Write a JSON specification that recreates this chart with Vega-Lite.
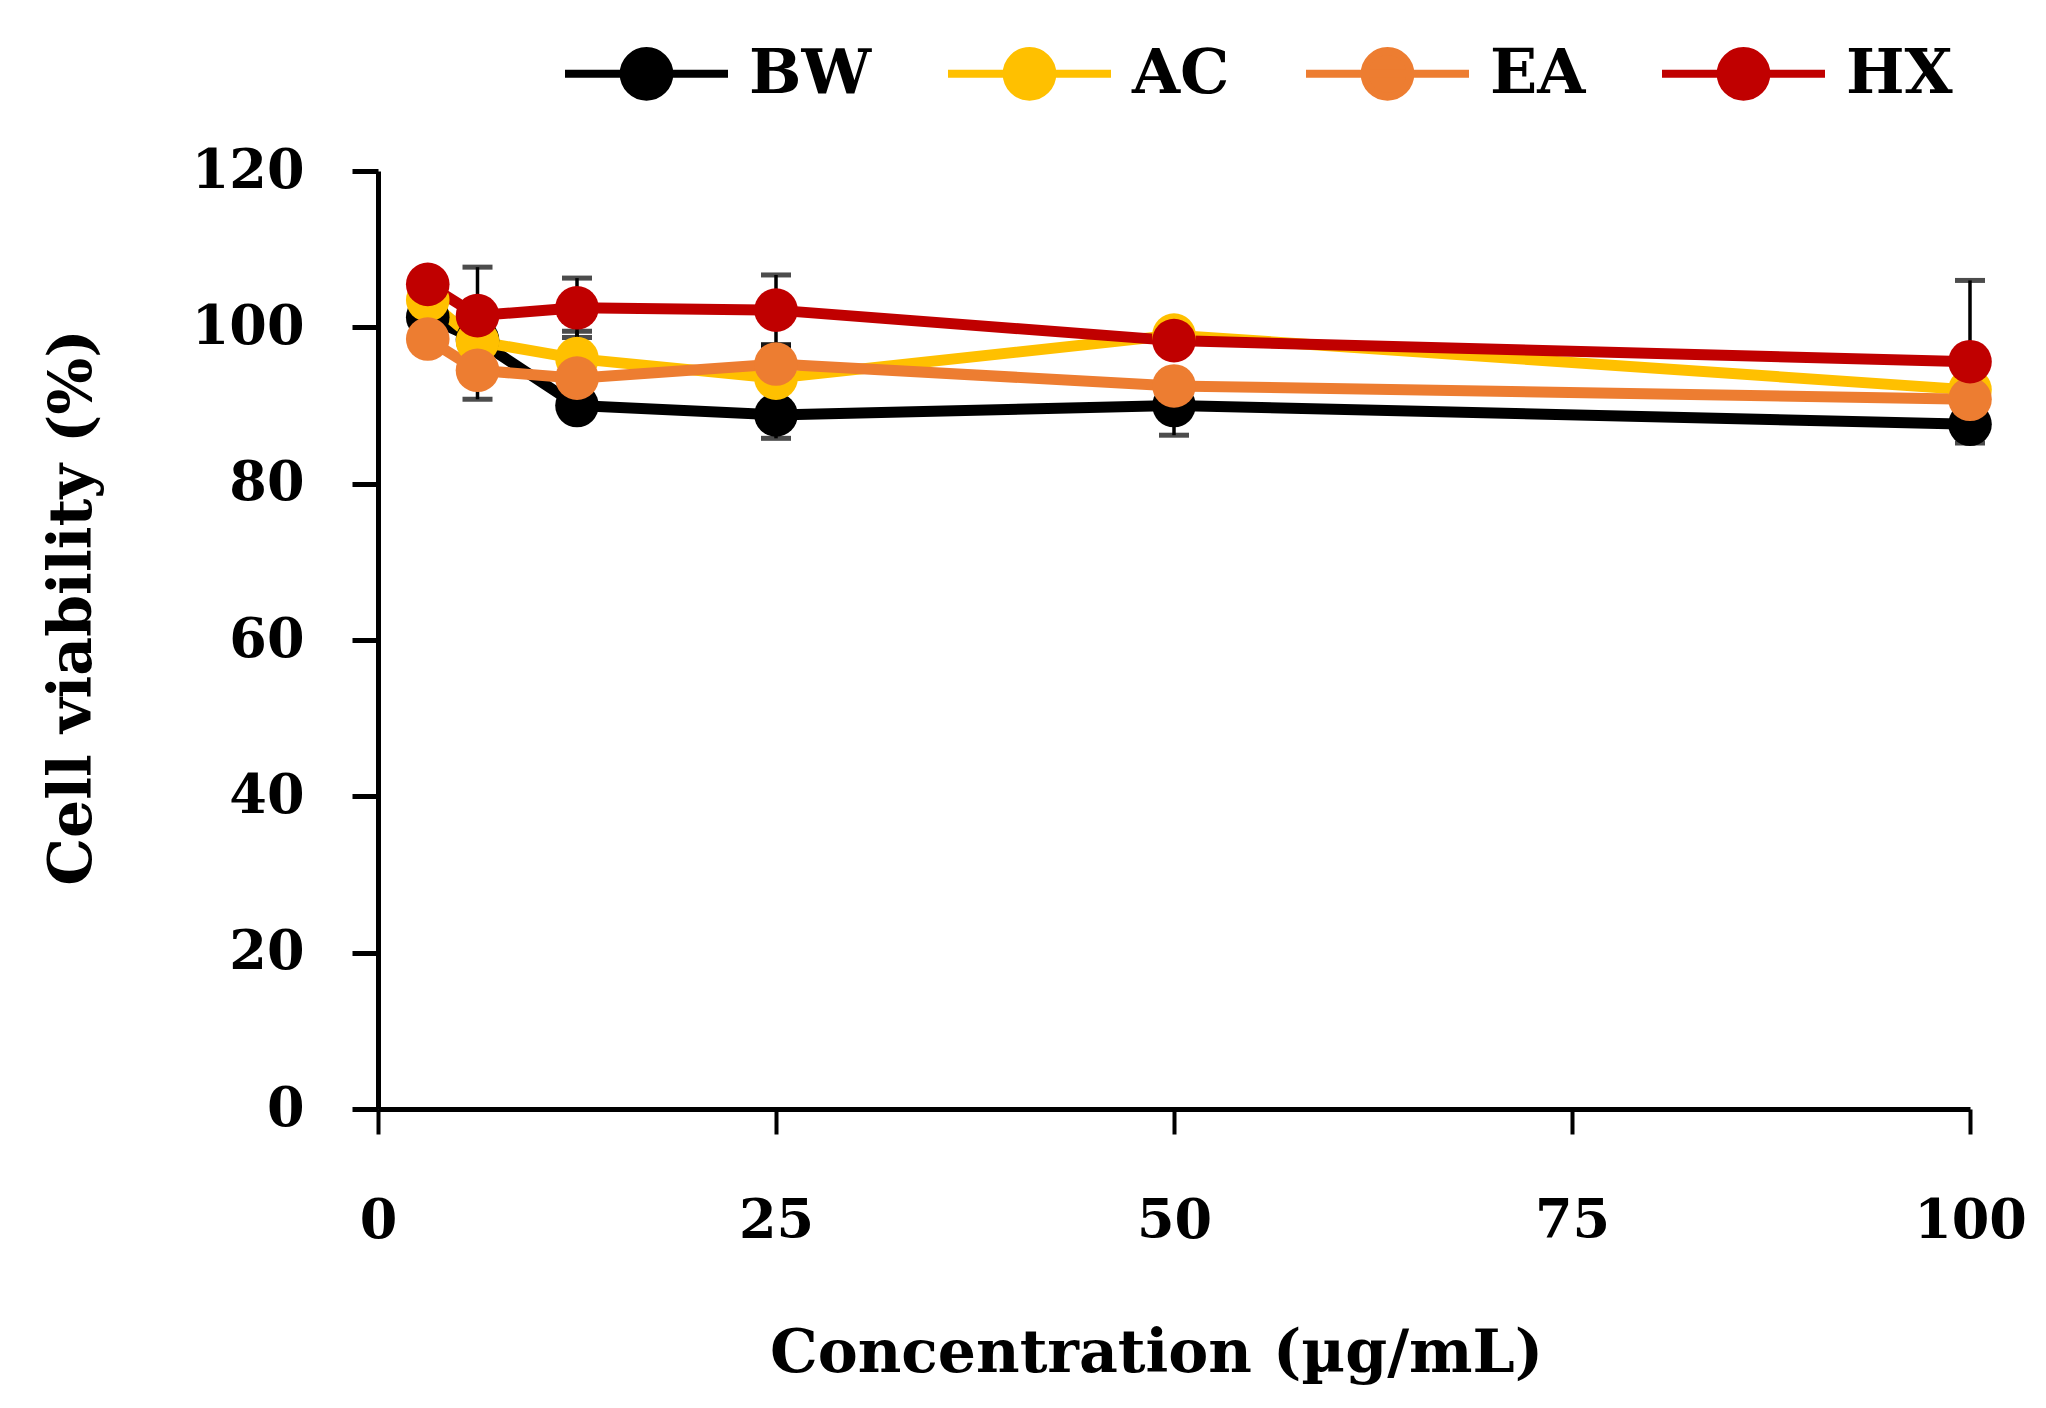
{
  "$schema": "https://vega.github.io/schema/vega-lite/v6.json",
  "autosize": "none",
  "padding": {"left": 378, "top": 171, "right": 76, "bottom": 299},
  "width": 1592,
  "height": 938,
  "background": "white",
  "data": {
    "values": [
      {"series": "BW", "conc": 3.125, "viability": 101.3, "err": 1.0},
      {"series": "BW", "conc": 6.25, "viability": 98.4, "err": 1.0},
      {"series": "BW", "conc": 12.5, "viability": 90.0, "err": 1.5},
      {"series": "BW", "conc": 25, "viability": 88.8, "err": 3.0},
      {"series": "BW", "conc": 50, "viability": 90.0, "err": 3.8},
      {"series": "BW", "conc": 100, "viability": 87.6, "err": 1.0},
      {"series": "AC", "conc": 3.125, "viability": 103.5, "err": 1.0},
      {"series": "AC", "conc": 6.25, "viability": 98.2, "err": 1.5},
      {"series": "AC", "conc": 12.5, "viability": 96.0, "err": 3.5},
      {"series": "AC", "conc": 25, "viability": 93.5, "err": 4.3},
      {"series": "AC", "conc": 50, "viability": 99.0, "err": 1.5},
      {"series": "AC", "conc": 100, "viability": 92.0, "err": 1.0},
      {"series": "EA", "conc": 3.125, "viability": 98.5, "err": 1.0},
      {"series": "EA", "conc": 6.25, "viability": 94.5, "err": 3.7},
      {"series": "EA", "conc": 12.5, "viability": 93.5, "err": 1.5},
      {"series": "EA", "conc": 25, "viability": 95.3, "err": 2.0},
      {"series": "EA", "conc": 50, "viability": 92.5, "err": 1.0},
      {"series": "EA", "conc": 100, "viability": 90.8, "err": 1.0},
      {"series": "HX", "conc": 3.125, "viability": 105.5, "err": 1.0},
      {"series": "HX", "conc": 6.25, "viability": 101.5, "err": 6.2},
      {"series": "HX", "conc": 12.5, "viability": 102.5, "err": 3.8},
      {"series": "HX", "conc": 25, "viability": 102.2, "err": 4.5},
      {"series": "HX", "conc": 50, "viability": 98.3, "err": 1.5},
      {"series": "HX", "conc": 100, "viability": 95.6, "err": 10.4}
    ]
  },
  "transform": [
    {"calculate": "datum.viability - datum.err", "as": "lo"},
    {"calculate": "datum.viability + datum.err", "as": "hi"}
  ],
  "encoding": {
    "x": {
      "field": "conc",
      "type": "quantitative",
      "title": "Concentration (µg/mL)",
      "scale": {"domain": [0, 100], "nice": false, "zero": true},
      "axis": {
        "values": [0, 25, 50, 75, 100],
        "grid": false,
        "labelFlush": false,
        "domainWidth": 5,
        "domainColor": "black",
        "tickColor": "black",
        "tickWidth": 4,
        "tickSize": 25,
        "labelPadding": 60,
        "labelFontSize": 54,
        "labelFont": "DejaVu Serif",
        "labelFontWeight": "bold",
        "labelColor": "black",
        "titleFont": "DejaVu Serif",
        "titleFontSize": 60,
        "titleFontWeight": "bold",
        "titleColor": "black",
        "titleX": 778,
        "titleY": 262,
        "titleBaseline": "alphabetic",
        "titleAlign": "center"
      }
    },
    "y": {
      "type": "quantitative",
      "title": "Cell viability (%)",
      "scale": {"domain": [0, 120], "nice": false},
      "axis": {
        "values": [0, 20, 40, 60, 80, 100, 120],
        "grid": false,
        "domainWidth": 5,
        "domainColor": "black",
        "tickColor": "black",
        "tickWidth": 5,
        "tickSize": 26,
        "labelPadding": 48,
        "labelFontSize": 54,
        "labelFont": "DejaVu Serif",
        "labelFontWeight": "bold",
        "labelColor": "black",
        "titleFont": "DejaVu Serif",
        "titleFontSize": 60,
        "titleFontWeight": "bold",
        "titleColor": "black",
        "titleX": -306,
        "titleY": 436,
        "titleBaseline": "middle",
        "titleAlign": "center",
        "titleAngle": -90
      }
    }
  },
  "layer": [
    {
      "mark": {"type": "rule", "color": "black", "strokeWidth": 3.5},
      "encoding": {
        "y": {"field": "lo"},
        "y2": {"field": "hi"}
      }
    },
    {
      "mark": {"type": "tick", "orient": "horizontal", "color": "black", "size": 30, "thickness": 5},
      "encoding": {"y": {"field": "hi"}}
    },
    {
      "mark": {"type": "tick", "orient": "horizontal", "color": "black", "size": 30, "thickness": 5},
      "encoding": {"y": {"field": "lo"}}
    },
    {
      "mark": {"type": "line", "strokeWidth": 11, "strokeJoin": "round", "strokeCap": "round"},
      "encoding": {
        "y": {"field": "viability"},
        "color": {
          "field": "series",
          "type": "nominal",
          "scale": {"domain": ["BW", "AC", "EA", "HX"], "range": ["#000000", "#FFC000", "#ED7D31", "#C00000"]},
          "legend": {
            "title": null,
            "orient": "none",
            "direction": "horizontal",
            "legendX": 183,
            "legendY": -183,
            "symbolType": "M-1,0L1,0M-0.28,0A0.28,0.28,0,1,0,0.28,0A0.28,0.28,0,1,0,-0.28,0Z",
            "symbolSize": 26569,
            "symbolStrokeWidth": 8,
            "labelFont": "DejaVu Serif",
            "labelFontSize": 62,
            "labelFontWeight": "bold",
            "labelColor": "black",
            "labelOffset": 17,
            "columnPadding": 60,
            "labelLimit": 400,
            "encode": {
              "symbols": {
                "update": {
                  "fill": {"scale": "color", "field": "value"},
                  "stroke": {"scale": "color", "field": "value"},
                  "strokeWidth": {"value": 8},
                  "opacity": {"value": 1}
                }
              }
            }
          }
        }
      }
    },
    {
      "mark": {"type": "point", "filled": true, "opacity": 1, "shape": "circle", "size": 1900},
      "encoding": {
        "y": {"field": "viability"},
        "color": {"field": "series", "type": "nominal"}
      }
    }
  ],
  "config": {
    "view": {"stroke": null}
  }
}
